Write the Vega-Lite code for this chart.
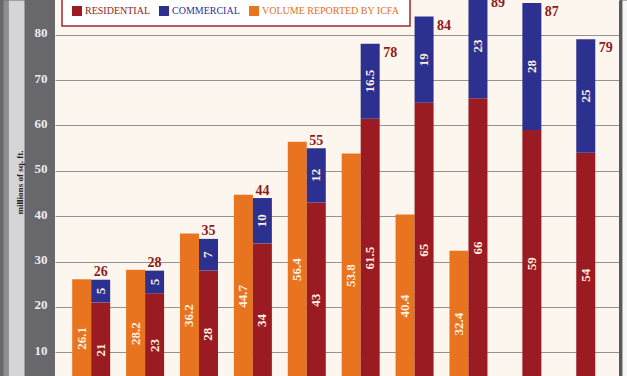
{
  "$schema": "https://vega.github.io/schema/vega-lite/v6.json",
  "width": 565,
  "height": 376,
  "autosize": {"type": "none"},
  "padding": {"left": 55, "top": 0, "right": 7, "bottom": 0},
  "background": "#68686c",
  "view": {"fill": "#fdf6ee", "stroke": null},
  "config": {"font": "Liberation Serif"},
  "data": {
    "values": [
      {"group": 1, "series": "Volume Reported by ICFA", "value": 26.1},
      {"group": 1, "series": "Residential", "value": 21},
      {"group": 1, "series": "Commercial", "value": 5},
      {"group": 2, "series": "Volume Reported by ICFA", "value": 28.2},
      {"group": 2, "series": "Residential", "value": 23},
      {"group": 2, "series": "Commercial", "value": 5},
      {"group": 3, "series": "Volume Reported by ICFA", "value": 36.2},
      {"group": 3, "series": "Residential", "value": 28},
      {"group": 3, "series": "Commercial", "value": 7},
      {"group": 4, "series": "Volume Reported by ICFA", "value": 44.7},
      {"group": 4, "series": "Residential", "value": 34},
      {"group": 4, "series": "Commercial", "value": 10},
      {"group": 5, "series": "Volume Reported by ICFA", "value": 56.4},
      {"group": 5, "series": "Residential", "value": 43},
      {"group": 5, "series": "Commercial", "value": 12},
      {"group": 6, "series": "Volume Reported by ICFA", "value": 53.8},
      {"group": 6, "series": "Residential", "value": 61.5},
      {"group": 6, "series": "Commercial", "value": 16.5},
      {"group": 7, "series": "Volume Reported by ICFA", "value": 40.4},
      {"group": 7, "series": "Residential", "value": 65},
      {"group": 7, "series": "Commercial", "value": 19},
      {"group": 8, "series": "Volume Reported by ICFA", "value": 32.4},
      {"group": 8, "series": "Residential", "value": 66},
      {"group": 8, "series": "Commercial", "value": 23},
      {"group": 9, "series": "Residential", "value": 59},
      {"group": 9, "series": "Commercial", "value": 28},
      {"group": 10, "series": "Residential", "value": 54},
      {"group": 10, "series": "Commercial", "value": 25}
    ]
  },
  "transform": [
    {"calculate": "datum.series == 'Volume Reported by ICFA' ? 'ICFA' : 'Building'", "as": "kind"},
    {"stack": "value", "groupby": ["group", "kind"], "sort": [{"field": "series", "order": "descending"}], "as": ["y0", "y1"]},
    {"calculate": "(datum.y0 + datum.y1) / 2", "as": "mid"}
  ],
  "encoding": {
    "x": {"field": "group", "type": "ordinal", "axis": null, "scale": {"paddingInner": 0.295, "paddingOuter": 0.389, "align": 0.41}},
    "xOffset": {"field": "kind", "type": "nominal", "scale": {"domain": ["ICFA", "Building"], "paddingInner": 0, "paddingOuter": 0}}
  },
  "layer": [
    {
      "mark": {"type": "bar", "clip": true},
      "encoding": {
        "y": {
          "field": "y1", "type": "quantitative",
          "scale": {"domain": [4.78, 87.65], "nice": false, "zero": false},
          "axis": {
            "orient": "left", "values": [10, 20, 30, 40, 50, 60, 70, 80],
            "domain": false, "ticks": false, "grid": true, "gridColor": "#929292", "gridWidth": 1.2,
            "labelColor": "#ececec", "labelFont": "Liberation Serif", "labelFontWeight": "bold", "labelFontSize": 13,
            "labelPadding": 8, "labelOffset": -2, "title": null
          }
        },
        "y2": {"field": "y0"},
        "color": {
          "field": "series", "type": "nominal",
          "scale": {"domain": ["Residential", "Commercial", "Volume Reported by ICFA"], "range": ["#9a1c22", "#2c3190", "#e8741f"]},
          "legend": {
            "orient": "none", "legendX": 7, "legendY": -4, "direction": "horizontal", "title": null,
            "symbolType": "square", "symbolSize": 100, "symbolStrokeWidth": 0,
            "labelFont": "Liberation Serif", "labelFontSize": 10, "labelOffset": 3, "columnPadding": 9, "labelLimit": 300,
            "padding": 10, "fillColor": "#ffffff", "strokeColor": "#a0282c",
            "labelExpr": "upper(datum.label)",
            "encode": {
              "labels": {"update": {"fill": {"signal": "datum.value == 'Residential' ? '#8e1b20' : datum.value == 'Commercial' ? '#2b3190' : '#e0701f'"}}},
              "legend": {"update": {"strokeWidth": {"value": 1.5}}}
            }
          }
        }
      }
    },
    {
      "transform": [{"filter": "datum.kind == 'ICFA'"}],
      "mark": {"type": "text", "angle": 270, "align": "center", "baseline": "middle", "font": "Liberation Serif", "fontWeight": "bold", "fontSize": 13, "color": "#fdf0e0"},
      "encoding": {
        "y": {"field": "mid", "type": "quantitative", "scale": {"domain": [4.78, 87.65], "nice": false, "zero": false},
          "axis": {"orient": "left", "offset": 39, "domainColor": "#d4d4d9", "domainWidth": 16, "labels": false, "ticks": false, "grid": false,
            "title": "millions of sq. ft.", "titleFont": "Liberation Serif", "titleFontWeight": "bold", "titleFontSize": 9,
            "titleColor": "#222222", "titleX": 3, "titleY": 182, "titleAngle": -90, "titleBaseline": "middle", "titleAlign": "center"}},
        "text": {"field": "value", "type": "quantitative"}
      }
    },
    {
      "transform": [{"filter": "datum.kind == 'Building'"}],
      "mark": {"type": "text", "angle": 270, "align": "center", "baseline": "middle", "font": "Liberation Serif", "fontWeight": "bold", "fontSize": 13, "color": "#fdf0e0"},
      "encoding": {
        "y": {"field": "mid", "type": "quantitative", "scale": {"domain": [4.78, 87.65], "nice": false, "zero": false},
          "axis": {"orient": "left", "offset": 49.5, "domainColor": "#8e8e92", "domainWidth": 5, "labels": false, "ticks": false, "grid": false, "title": null}},
        "text": {"field": "value", "type": "quantitative"}
      }
    },
    {
      "transform": [{"filter": "datum.series == 'Commercial' && datum.y1 < 60"}],
      "mark": {"type": "text", "align": "center", "baseline": "middle", "dy": -7.5, "font": "Liberation Serif", "fontWeight": "bold", "fontSize": 14, "color": "#8e1b20"},
      "encoding": {
        "y": {"field": "y1", "type": "quantitative", "scale": {"domain": [4.78, 87.65], "nice": false, "zero": false},
          "axis": {"orient": "right", "offset": 0, "domainColor": "#5a5a5e", "domainWidth": 3, "labels": false, "ticks": false, "grid": false, "title": null}},
        "text": {"field": "y1", "type": "quantitative"}
      }
    },
    {
      "transform": [{"filter": "datum.series == 'Commercial' && datum.y1 >= 60"}],
      "mark": {"type": "text", "align": "left", "baseline": "middle", "dx": 13, "dy": 9, "font": "Liberation Serif", "fontWeight": "bold", "fontSize": 14, "color": "#8e1b20"},
      "encoding": {
        "y": {"field": "y1", "type": "quantitative", "scale": {"domain": [4.78, 87.65], "nice": false, "zero": false},
          "axis": {"orient": "right", "offset": 4.5, "domainColor": "#f7f7f7", "domainWidth": 5, "labels": false, "ticks": false, "grid": false, "title": null}},
        "text": {"field": "y1", "type": "quantitative"}
      }
    }
  ],
  "resolve": {"axis": {"y": "independent"}}
}
